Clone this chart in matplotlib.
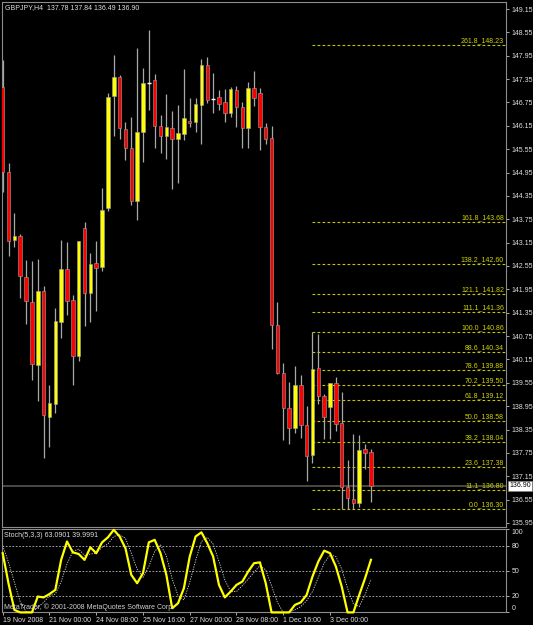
import numpy as np
import matplotlib
matplotlib.use('Agg')
import matplotlib.pyplot as plt
import matplotlib.transforms as mtransforms

plt.rcParams['font.family'] = ['Liberation Sans', 'DejaVu Sans']

# GBPJPY H4 candles (index 0 = 19 Nov 16:00)
opens = [147.14, 144.97, 143.22, 143.32, 142.26, 141.63, 140.00, 141.92, 138.68, 139.01,
         141.10, 142.47, 141.68, 140.24, 143.52, 141.85, 142.62, 142.53, 144.03, 146.92,
         147.40, 146.06, 145.59, 144.22, 146.00, 147.26, 147.33, 146.15, 145.89, 146.09,
         145.80, 145.93, 146.28, 146.26, 146.69, 147.71, 146.85, 146.88, 146.77, 146.47,
         147.07, 146.63, 146.10, 147.11, 146.99, 146.13, 145.83, 141.04, 139.81, 138.90,
         138.38, 139.49, 138.47, 137.70, 139.92, 139.21, 138.92, 139.55, 138.51, 136.88,
         136.56, 136.47, 137.84, 137.78]
highs = [147.84, 145.20, 143.90, 143.37, 142.70, 142.69, 142.72, 142.04, 139.49, 141.46,
         143.22, 143.17, 141.80, 143.20, 143.67, 142.88, 143.20, 144.55, 146.99, 147.97,
         147.46, 146.26, 146.38, 148.14, 147.63, 148.61, 147.48, 146.43, 146.97, 146.54,
         146.69, 147.61, 146.86, 146.86, 147.86, 147.91, 147.50, 147.07, 147.09, 147.14,
         147.17, 146.77, 147.28, 147.57, 147.11, 146.23, 146.15, 141.63, 140.07, 139.58,
         139.98, 139.75, 138.95, 140.86, 140.80, 139.25, 139.54, 139.71, 139.32, 137.57,
         138.24, 138.21, 137.98, 137.84]
lows = [144.46, 142.81, 143.05, 141.72, 141.05, 139.61, 139.08, 137.61, 137.89, 138.77,
        140.69, 141.29, 139.49, 140.12, 141.01, 141.10, 141.39, 142.42, 143.97, 145.89,
        145.80, 145.27, 144.12, 143.73, 145.23, 146.56, 145.57, 145.46, 145.29, 144.52,
        144.67, 145.79, 146.13, 145.98, 145.68, 146.74, 146.47, 146.56, 146.26, 146.37,
        146.13, 145.57, 145.57, 146.66, 145.53, 145.68, 140.42, 139.78, 138.08, 137.98,
        138.25, 138.13, 137.04, 137.48, 139.01, 138.10, 138.10, 138.30, 136.31, 136.30,
        136.31, 136.37, 137.33, 136.49]
closes = [144.97, 143.20, 143.32, 142.29, 141.66, 140.03, 141.91, 138.72, 139.02, 141.15,
          142.47, 141.66, 140.25, 143.18, 141.86, 142.60, 142.49, 143.99, 146.90, 147.40,
          146.09, 145.57, 144.22, 145.98, 147.24, 147.26, 146.15, 145.89, 146.11, 145.80,
          145.96, 146.36, 146.21, 146.71, 147.71, 146.81, 146.85, 146.70, 146.47, 147.09,
          146.63, 146.09, 147.11, 146.86, 146.13, 145.80, 141.04, 139.81, 138.90, 138.38,
          139.49, 138.47, 137.67, 139.90, 139.21, 138.66, 139.54, 138.49, 136.87, 136.58,
          136.47, 137.83, 137.74, 136.90]

# Stochastic(5,3,3): main and signal
stoch_main = [71, 34.5, 3, 0, 0, 0, 19, 18, 22, 27, 63, 85, 72, 70, 63, 78, 71, 84, 90, 99,
              91, 77, 45, 35, 47, 84, 87, 71, 45, 5, 11, 29, 67, 91, 96, 83, 67, 33, 18, 25,
              33, 37, 49, 59, 60, 35, 0, 0, 0, 0, 9, 12, 21, 43, 61, 74, 71, 55, 31, 0,
              0, 21, 41, 63.0901]
stoch_signal = [80, 60, 36, 12.5, 1, 0, 6, 12, 20, 22, 37, 58, 73, 76, 68, 70, 71, 78, 82, 91,
                93, 89, 71, 52, 42, 55, 73, 81, 68, 40, 20, 15, 36, 62, 85, 90, 82, 61, 39, 25,
                25, 32, 40, 48, 56, 51, 32, 12, 0, 0, 3, 7, 14, 25, 42, 59, 69, 67, 52, 29,
                10, 7, 21, 39.9991]

# fibonacci levels (drawn from the swing high bar)
fib_names = ['261.8', '161.8', '138.2', '121.1', '111.1', '100.0', '88.6', '78.6',
             '70.2', '61.8', '50.0', '38.2', '23.6', '11.1', '0.0']
fib_prices = [148.23, 143.68, 142.60, 141.82, 141.36, 140.86, 140.34, 139.88,
              139.50, 139.12, 138.58, 138.04, 137.38, 136.80, 136.30]
fib_start = 53

time_pos = [0, 8, 16, 24, 32, 40, 48, 56]
time_labels = ['19 Nov 2008', '21 Nov 00:00', '24 Nov 08:00', '25 Nov 16:00',
               '27 Nov 00:00', '28 Nov 08:00', '1 Dec 16:00', '3 Dec 00:00']

W, H = 533, 625
fig = plt.figure(figsize=(W / 100, H / 100), dpi=100, facecolor='black')


def box(x0, y0, x1, y1):
    # pixel rectangle -> figure fractions
    return [x0 / W, 1 - y1 / H, (x1 - x0) / W, (y1 - y0) / H]


ax = fig.add_axes(box(2, 2, 505.7, 527), facecolor='black')
ax2 = fig.add_axes(box(2, 529, 505.7, 612.4), facecolor='black')

bar_px = 5.845
x_left = (2 - 2.7) / bar_px
x_right = (505.7 - 2.7) / bar_px
for a in (ax, ax2):
    a.set_xlim(x_left, x_right)
    for s in a.spines.values():
        s.set_color('#8c8c8c')
        s.set_linewidth(0.8)

# ---- candles
o = np.array(opens); h = np.array(highs); l = np.array(lows); c = np.array(closes)
idx = np.arange(len(o))
cols = np.where(c > o, '#ffff00', '#ff0000')
ax.axhline(c[-1], color='#4e4e4e', lw=1.3, zorder=1)
ax.vlines(idx, l, h, color='#a8a8a8', lw=0.9, zorder=2)
body = c != o
ax.bar(idx[body], np.abs(c - o)[body], bottom=np.minimum(o, c)[body], width=0.6,
       color=cols[body], edgecolor='#a0a0a0', linewidth=0.4, zorder=3)
doji = ~body
ax.hlines(o[doji], idx[doji] - 0.32, idx[doji] + 0.32, color='white', lw=1.0, zorder=3)

# ---- fibonacci
ax.hlines(fib_prices, fib_start, x_right, colors='#c4c400', linestyles=(0, (2.5, 2)),
          lw=0.8, zorder=1)
x_lab = (504 - 2.7) / bar_px
for name, price in zip(fib_names, fib_prices):
    ax.text(x_lab, price + 0.02, f'{name}_{price:.2f}', ha='right', va='bottom',
            fontsize=5, color='#d4d400', zorder=4)

ax.set_ylim(135.847, 149.33)
ticks = np.round(np.arange(135.95, 149.16, 0.6), 2)
ax.yaxis.tick_right()
ax.set_yticks(ticks)
ax.set_yticklabels([f'{t:.2f}' for t in ticks])
ax.set_xticks([])
ax.tick_params(axis='y', direction='out', length=2.5, width=0.6, color='#c8c8c8',
               labelcolor='#e0e0e0', labelsize=5, pad=1.5)

# current price box
tr = mtransforms.blended_transform_factory(fig.transFigure, ax.transData)
ax.text(509 / W, c[-1], f'{c[-1]:.2f}', transform=tr, ha='left', va='center',
        fontsize=5, color='black', zorder=6,
        bbox=dict(facecolor='white', edgecolor='#808080', pad=0.8, lw=0.5))

fig.text(5.3 / W, 1 - 7.5 / H,
         f'GBPJPY,H4  {o[-1]:.2f} {h[-1]:.2f} {l[-1]:.2f} {c[-1]:.2f}',
         fontsize=5, color='#e0e0e0', va='center')

# ---- stochastic panel
ax2.set_ylim(0, 100)
for lev in (20, 50, 80):
    ax2.axhline(lev, color='#bdbdbd', lw=0.6, ls=(0, (2, 2)))
ax2.plot(idx, stoch_signal, color='#d8d8d8', lw=0.6, ls=(0, (1.5, 1.5)))
ax2.plot(idx, stoch_main, color='#ffff00', lw=1.6, clip_on=False, zorder=4)

ax2.yaxis.tick_right()
ax2.set_yticks([0, 20, 50, 80, 100])
ax2.set_yticklabels(['0', '20', '50', '80', '100'])
ax2.tick_params(axis='y', direction='out', length=2.5, width=0.6, color='#c8c8c8',
                labelcolor='#e0e0e0', labelsize=5, pad=1.5)
yt = ax2.yaxis.get_major_ticks()
yt[0].label2.set_va('bottom')
yt[-1].label2.set_va('top')

ax2.set_xticks(time_pos)
ax2.set_xticklabels(time_labels)
ax2.tick_params(axis='x', direction='out', length=2.5, width=0.6, color='#c8c8c8',
                labelcolor='#e0e0e0', labelsize=5, pad=1)
for lbl in ax2.get_xticklabels():
    lbl.set_ha('left')

fig.text(4 / W, 1 - 535.7 / H,
         f'Stoch(5,3,3) {stoch_main[-1]:.4f} {stoch_signal[-1]:.4f}',
         fontsize=5, color='#e0e0e0', va='center')
fig.text(4 / W, 1 - 606.7 / H, 'MetaTrader, © 2001-2008 MetaQuotes Software Corp.',
         fontsize=5, color='#d0d0d0', va='center')

fig.savefig('out.png', dpi=100, facecolor='black')
